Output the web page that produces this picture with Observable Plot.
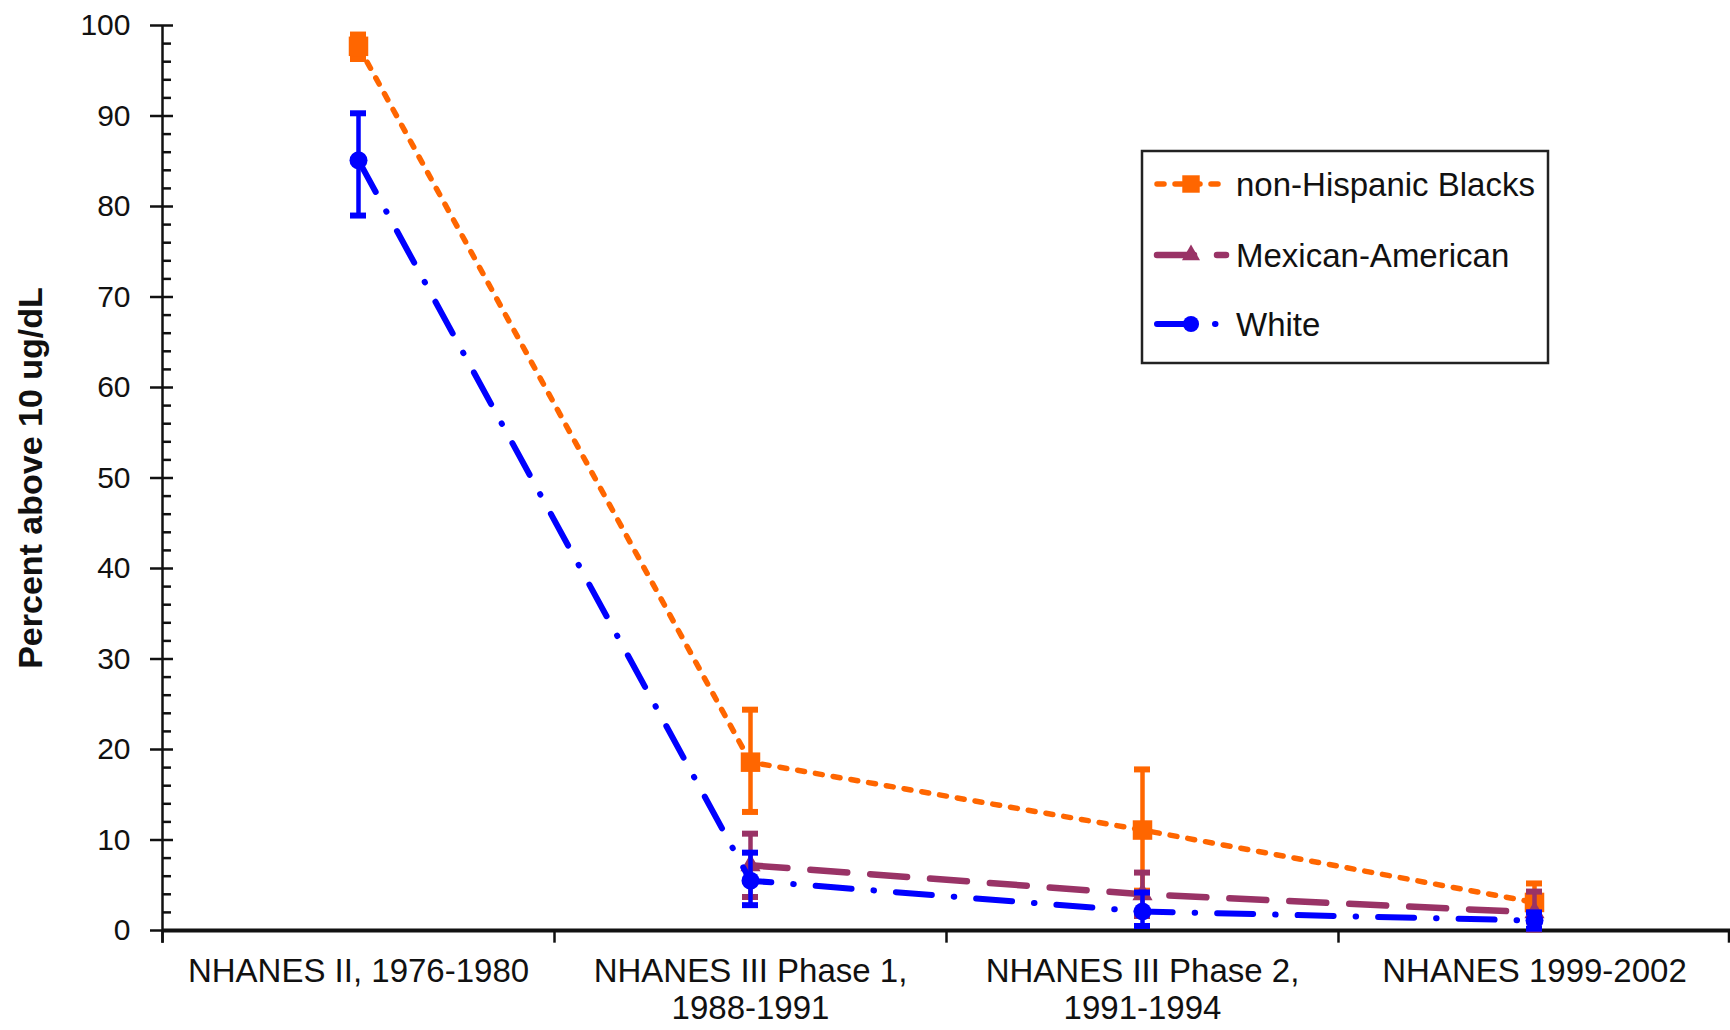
<!DOCTYPE html>
<html><head><meta charset="utf-8">
<script src="https://cdn.jsdelivr.net/npm/d3@7"></script>
<script src="https://cdn.jsdelivr.net/npm/@observablehq/plot@0.6"></script>
<style>
body{margin:0;background:#fff}
#wrap{position:relative;width:1730px;height:1030px;overflow:hidden}
#legend{position:absolute;left:0;top:0}
</style>
</head><body><div id="wrap"></div>
<script>
const periods = ["NHANES II, 1976-1980", "NHANES III Phase 1,\n1988-1991", "NHANES III Phase 2,\n1991-1994", "NHANES 1999-2002"];
const seriesNames = ["non-Hispanic Blacks", "Mexican-American", "White"];
const blacks   = [97.7, 18.6, 11.1, 3.1];
const blacksLo = [96.3, 13.1, 4.4, 1.0];
const blacksHi = [99.0, 24.4, 17.8, 5.2];
const mexican   = [null, 7.2, 4.0, 2.0];
const mexicanLo = [null, 3.7, 1.6, 0.1];
const mexicanHi = [null, 10.7, 6.4, 4.3];
const white   = [85.1, 5.5, 2.1, 1.1];
const whiteLo = [79.0, 2.8, 0.5, 0.2];
const whiteHi = [90.3, 8.6, 4.2, 2.0];
const yTicks = d3.range(0, 101, 10);
const yMinorTicks = d3.range(0, 101, 2).filter(v => v % 10 !== 0);
const yTitle = "Percent above 10 ug/dL";

const styles = [
  {color: "#FF6600", dash: "7,11", width: 5.5, symbol: "square", r: 11},
  {color: "#993366", dash: "37,23", width: 6.5, symbol: "triangle", r: 7.5},
  {color: "#0000FF", dash: "36,22,0.5,22", width: 6, symbol: "circle", r: 9}
];
const vals = [blacks, mexican, white], los = [blacksLo, mexicanLo, whiteLo], his = [blacksHi, mexicanHi, whiteHi];

const W = 1730, H = 1030, ML = 162, MR = 0, MT = 25, MB = 100;
const band = (W - ML - MR) / periods.length;

const seriesMarks = [];
seriesNames.forEach((name, i) => {
  const s = styles[i];
  const data = periods.map((p, j) => ({period: p, v: vals[i][j], lo: los[i][j], hi: his[i][j]})).filter(d => d.v != null);
  seriesMarks.push(
    Plot.line(data, {x: "period", y: "v", stroke: s.color, strokeWidth: s.width, strokeDasharray: s.dash, strokeLinecap: "round"}),
    Plot.ruleX(data, {x: "period", y1: "lo", y2: "hi", stroke: s.color, strokeWidth: 4.5}),
    Plot.tickY(data, {x: "period", y: "lo", stroke: s.color, strokeWidth: 6, insetLeft: (band - 16) / 2, insetRight: (band - 16) / 2}),
    Plot.tickY(data, {x: "period", y: "hi", stroke: s.color, strokeWidth: 6, insetLeft: (band - 16) / 2, insetRight: (band - 16) / 2}),
    Plot.dot(data, {x: "period", y: "v", symbol: () => s.symbol, r: s.r, fill: s.color, stroke: "none"})
  );
});

const chart = Plot.plot({
  width: W, height: H,
  marginLeft: ML, marginRight: MR, marginTop: MT, marginBottom: MB,
  style: {fontFamily: "'Liberation Sans', Arial, sans-serif", fontSize: "30px", color: "#111", background: "white", overflow: "visible"},
  x: {type: "band", domain: periods, padding: 0},
  y: {domain: [0, 100]},
  marks: [
    Plot.axisY(yTicks, {tickSize: 12, tickPadding: 20, strokeWidth: 2.5, fontSize: 30, label: null}),
    Plot.tickY(yTicks, {y: d => d, insetRight: (W - ML - MR) - 11, strokeWidth: 2.5}),
    Plot.tickY(yMinorTicks, {y: d => d, insetRight: (W - ML - MR) - 9, strokeWidth: 2.5}),
    Plot.axisX({tickSize: 0, tickPadding: 26, fontSize: 33, lineHeight: 1.1, label: null}),
    Plot.ruleX([periods[0]], {x: d => d, dx: -band / 2, y1: -1.4, y2: 100, strokeWidth: 2.5}),
    Plot.ruleX(periods, {x: d => d, dx: -band / 2, y1: 0, y2: -1.4, strokeWidth: 2.5}),
    Plot.ruleX([periods[periods.length - 1]], {x: d => d, dx: band / 2 - 1.5, y1: 0, y2: -1.4, strokeWidth: 2.5}),
    Plot.ruleY([0], {strokeWidth: 4}),
    Plot.text([yTitle], {frameAnchor: "left", dx: -131, rotate: -90, fontWeight: "bold", fontSize: 34, textAnchor: "middle", lineAnchor: "middle", fill: "#111"}),
    ...seriesMarks
  ]
});
document.getElementById("wrap").appendChild(chart);

// Legend (inside the plot area, top right)
const lg = d3.select("#wrap").append("svg").attr("id", "legend").attr("width", W).attr("height", H);
lg.append("rect").attr("x", 1142).attr("y", 151).attr("width", 406).attr("height", 212)
  .attr("fill", "white").attr("stroke", "#222").attr("stroke-width", 2.5);
const rowsY = [184, 255, 324];
seriesNames.forEach((name, i) => {
  const s = styles[i], y = rowsY[i];
  lg.append("line").attr("x1", 1157).attr("x2", 1226).attr("y1", y).attr("y2", y)
    .attr("stroke", s.color).attr("stroke-width", s.width).attr("stroke-dasharray", s.dash).attr("stroke-linecap", "round");
  const sym = {square: d3.symbolSquare, triangle: d3.symbolTriangle, circle: d3.symbolCircle}[s.symbol];
  lg.append("path").attr("d", d3.symbol(sym, Math.PI * s.r * s.r * 0.8)()).attr("transform", `translate(1191,${y})`).attr("fill", s.color);
  lg.append("text").attr("x", 1236).attr("y", y).attr("dy", "0.36em")
    .attr("font-family", "'Liberation Sans', Arial, sans-serif").attr("font-size", 33).attr("fill", "#111").text(name);
});
</script>
</body></html>
